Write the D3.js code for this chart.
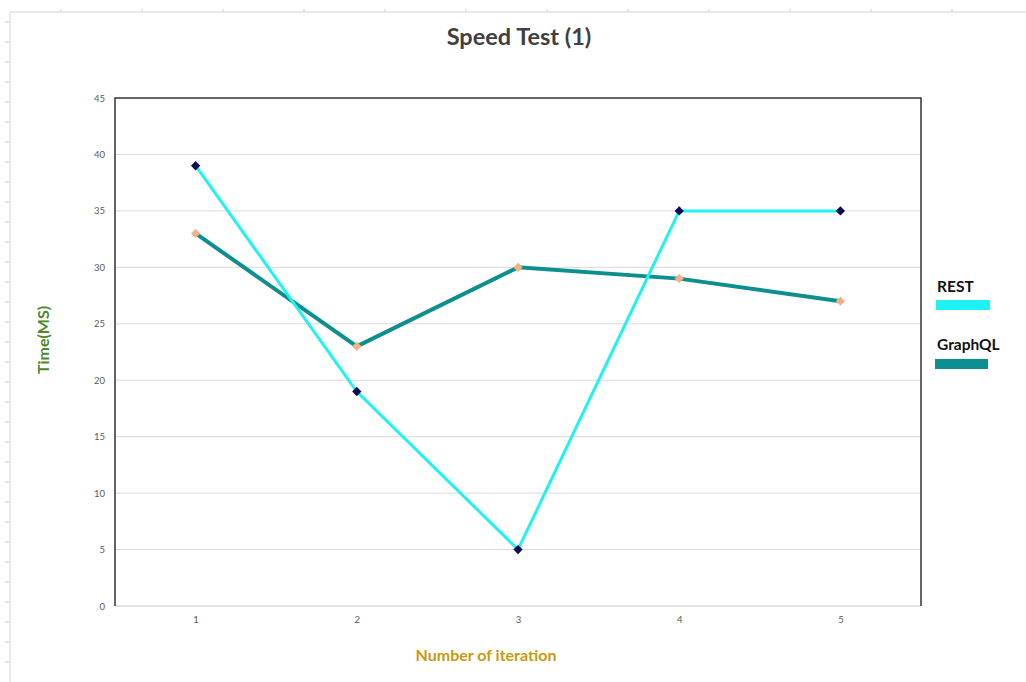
<!DOCTYPE html>
<html><head><meta charset="utf-8">
<script src="https://cdn.jsdelivr.net/npm/d3@7"></script>
<style>html,body{margin:0;padding:0;background:#fff;}svg{display:block;}</style>
</head><body>
<svg id="chart" width="1026" height="682"></svg>
<script>
const categories = [1, 2, 3, 4, 5];
const restValues = [39, 19, 5, 35, 35];
const graphqlValues = [33, 23, 30, 29, 27];
const yTicks = [0, 5, 10, 15, 20, 25, 30, 35, 40, 45];
const seriesNames = ["REST", "GraphQL"];

const svg = d3.select("#chart");
const W = 1026, H = 682;
const font = "Lato, 'Open Sans', sans-serif";

// spreadsheet frame
const frame = svg.append("g");
frame.append("line").attr("x1", 10).attr("x2", W).attr("y1", 12).attr("y2", 12).attr("stroke", "#e3e3e3").attr("stroke-width", 1.5);
frame.append("line").attr("x1", 10).attr("x2", 10).attr("y1", 12).attr("y2", H).attr("stroke", "#e3e3e3").attr("stroke-width", 1.5);
const topTicks = d3.range(61, W, 81);
frame.selectAll(".tt").data(topTicks).join("line").attr("x1", d => d).attr("x2", d => d).attr("y1", 9).attr("y2", 12).attr("stroke", "#dcdcdc").attr("stroke-width", 1.5);
const leftTicks = d3.range(22, H, 20);
frame.selectAll(".lt").data(leftTicks).join("line").attr("x1", 5).attr("x2", 10).attr("y1", d => d).attr("y2", d => d).attr("stroke", "#dcdcdc").attr("stroke-width", 1.5);

const m = {left: 115, top: 98, right: 921, bottom: 606};
const x = d3.scalePoint().domain(categories).range([m.left, m.right]).padding(0.5);
const y = d3.scaleLinear().domain([0, 45]).range([m.bottom, m.top]);

// gridlines
svg.append("g").selectAll("line").data(yTicks.filter(t => t > 0 && t < 45)).join("line")
  .attr("x1", m.left).attr("x2", m.right).attr("y1", d => y(d)).attr("y2", d => y(d))
  .attr("stroke", "#d9d9d9").attr("stroke-width", 1);

// bottom axis line
svg.append("line").attr("x1", m.left).attr("x2", m.right).attr("y1", m.bottom).attr("y2", m.bottom).attr("stroke", "#d9d9d9").attr("stroke-width", 1.5);
// plot border left/top/right
svg.append("path").attr("d", `M${m.left},${m.bottom}V${m.top}H${m.right}V${m.bottom}`).attr("fill", "none").attr("stroke", "#333").attr("stroke-width", 1.5);

// axes
const yAxis = svg.append("g").attr("transform", `translate(${m.left},0)`)
  .call(d3.axisLeft(y).tickValues(yTicks).tickSize(0).tickPadding(10));
yAxis.select(".domain").remove();
yAxis.selectAll("text").attr("font-family", font).attr("font-size", 9.5).attr("fill", "#595959");

const xAxis = svg.append("g").attr("transform", `translate(0,${m.bottom})`)
  .call(d3.axisBottom(x).tickSize(0).tickPadding(10));
xAxis.select(".domain").remove();
xAxis.selectAll("text").attr("font-family", font).attr("font-size", 9.5).attr("fill", "#595959");

// lines
const line = d3.line().x((d, i) => x(categories[i])).y(d => y(d));
svg.append("path").datum(graphqlValues).attr("d", line).attr("fill", "none").attr("stroke", "#0e8f8f").attr("stroke-width", 4);
svg.append("path").datum(restValues).attr("d", line).attr("fill", "none").attr("stroke", "#1ef2f2").attr("stroke-width", 3);

const diamond = d3.symbol().type(d3.symbolDiamond2).size(55);
svg.append("g").selectAll("path").data(graphqlValues).join("path")
  .attr("transform", (d, i) => `translate(${x(categories[i])},${y(d)})`)
  .attr("d", diamond).attr("fill", "#f4b183");
svg.append("g").selectAll("path").data(restValues).join("path")
  .attr("transform", (d, i) => `translate(${x(categories[i])},${y(d)})`)
  .attr("d", diamond).attr("fill", "#0b0b55");

// title
svg.append("text").attr("x", 519).attr("y", 45).attr("text-anchor", "middle")
  .attr("font-family", font).attr("font-weight", "bold").attr("font-size", 23.5).attr("fill", "#404040").text("Speed Test (1)");
// axis titles
svg.append("text").attr("transform", "translate(49,340) rotate(-90)").attr("text-anchor", "middle")
  .attr("font-family", font).attr("font-weight", "bold").attr("font-size", 16).attr("fill", "#4b8a2c").text("Time(MS)");
svg.append("text").attr("x", 486).attr("y", 661).attr("text-anchor", "middle")
  .attr("font-family", font).attr("font-weight", "bold").attr("font-size", 16).attr("fill", "#c79a10").text("Number of iteration");

// legend
const legend = [
  {name: seriesNames[0], color: "#1ef2f2", ty: 292, ry: 300, rx: 936, rw: 54},
  {name: seriesNames[1], color: "#0e8f8f", ty: 350, ry: 359, rx: 935, rw: 53}
];
const lg = svg.append("g");
lg.selectAll("text").data(legend).join("text").attr("x", 937).attr("y", d => d.ty)
  .attr("font-family", font).attr("font-weight", "bold").attr("font-size", 15.5).attr("fill", "#111").text(d => d.name);
lg.selectAll("rect").data(legend).join("rect").attr("x", d => d.rx).attr("y", d => d.ry).attr("width", d => d.rw).attr("height", 10).attr("fill", d => d.color);
</script>
</body></html>
